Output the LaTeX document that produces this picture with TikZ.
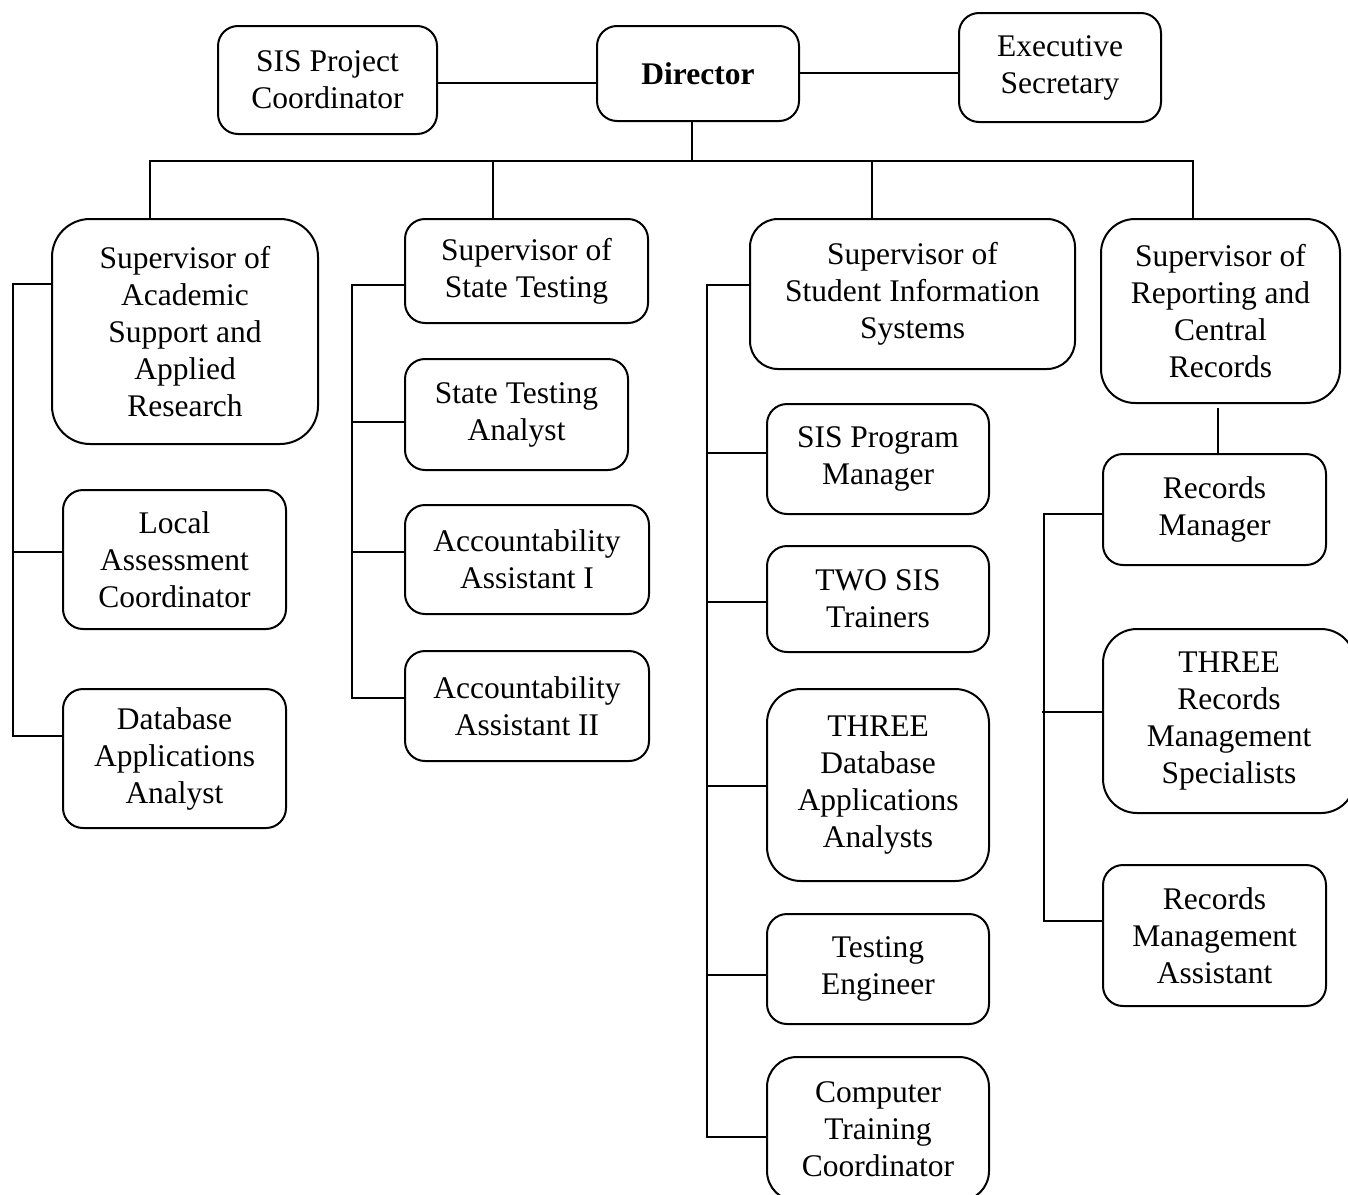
\documentclass[tikz,border=0pt]{standalone}
\usepackage{fontspec}
\setmainfont{Liberation Serif}
\begin{document}
\begin{tikzpicture}[x=1pt,y=-1pt,
  box/.style={draw, line width=2pt, rounded corners=20pt, align=center, inner sep=0pt,
    font=\fontsize{31.5}{37}\selectfont},
  bigbox/.style={box, rounded corners=38pt},
  conn/.style={line width=2pt}]
\useasboundingbox (0,0) rectangle (1348,1194);
\begin{scope}
\clip (0,0) rectangle (1348,1194);
% top row
\node[box, minimum width=219pt, minimum height=108pt] (spc) at (327.5,80) {SIS Project\\Coordinator};
\node[box, minimum width=202pt, minimum height=95pt] (dir) at (698,73.5) {\textbf{Director}};
\node[box, minimum width=202pt, minimum height=109pt] (exe) at (1060,67.5) {Executive\\Secretary};
% supervisors
\node[bigbox, minimum width=266pt, minimum height=225pt] (acad) at (185,331.5) {Supervisor of\\Academic\\Support and\\Applied\\Research};
\node[box, minimum width=243pt, minimum height=104pt] (sst) at (526.5,271) {Supervisor of\\State Testing};
\node[box, rounded corners=28pt, minimum width=325pt, minimum height=150pt] (ssis) at (912.5,294) {Supervisor of\\Student Information\\Systems};
\node[box, rounded corners=34pt, minimum width=239pt, minimum height=184pt] (srep) at (1220.5,311) {Supervisor of\\Reporting and\\Central\\Records};
% column 1
\node[box, minimum width=223pt, minimum height=139pt] (las) at (174.5,559.5) {Local\\Assessment\\Coordinator};
\node[box, minimum width=223pt, minimum height=139pt] (daa) at (174.5,758.5) {Database\\Applications\\Analyst};
% column 2
\node[box, minimum width=223pt, minimum height=111pt] (sta) at (516.5,414.5) {State Testing\\Analyst};
\node[box, minimum width=244pt, minimum height=109pt] (aa1) at (527,559.5) {Accountability\\Assistant I};
\node[box, minimum width=244pt, minimum height=110pt] (aa2) at (527,706) {Accountability\\Assistant II};
% column 3
\node[box, minimum width=222pt, minimum height=110pt] (spm) at (878,459) {SIS Program\\Manager};
\node[box, minimum width=222pt, minimum height=106pt] (tst) at (878,599) {TWO SIS\\Trainers};
\node[box, rounded corners=34pt, minimum width=222pt, minimum height=192pt] (tdaa) at (878,785) {THREE\\Database\\Applications\\Analysts};
\node[box, minimum width=222pt, minimum height=110pt] (te) at (878,969) {Testing\\Engineer};
\node[box, rounded corners=30pt, minimum width=222pt, minimum height=144pt] (ctc) at (878,1129) {Computer\\Training\\Coordinator};
% column 4
\node[box, minimum width=223pt, minimum height=111pt] (rm) at (1214.5,509.5) {Records\\Manager};
\node[box, rounded corners=34pt, minimum width=252pt, minimum height=184pt] (rms) at (1229,721) {THREE\\Records\\Management\\Specialists};
\node[box, minimum width=223pt, minimum height=141pt] (rma) at (1214.5,935.5) {Records\\Management\\Assistant};
\end{scope}
% top connectors
\draw[conn] (spc.east |- 0,83) -- (dir.west |- 0,83);
\draw[conn] (dir.east |- 0,73) -- (exe.west |- 0,73);
\coordinate (bar) at (692,161);
\coordinate (b1) at (150,161);
\coordinate (b2) at (493,161);
\coordinate (b3) at (872,161);
\coordinate (b4) at (1193,161);
\draw[conn] (bar |- dir.south) -- (bar);
\draw[conn] (b1 |- acad.north) -- (b1) -- (b4) -- (b4 |- srep.north);
\draw[conn] (b2) -- (b2 |- sst.north);
\draw[conn] (b3) -- (b3 |- ssis.north);
% column 1
\coordinate (c1a) at (13,284);
\coordinate (c1b) at (13,552);
\coordinate (c1c) at (13,736);
\draw[conn] (c1a -| acad.west) -- (c1a) -- (c1c) -- (c1c -| daa.west);
\draw[conn] (c1b) -- (c1b -| las.west);
% column 2
\coordinate (c2a) at (352,285);
\coordinate (c2b) at (352,422);
\coordinate (c2c) at (352,552);
\coordinate (c2d) at (352,698);
\draw[conn] (c2a -| sst.west) -- (c2a) -- (c2d) -- (c2d -| aa2.west);
\draw[conn] (c2b) -- (c2b -| sta.west);
\draw[conn] (c2c) -- (c2c -| aa1.west);
% column 3
\coordinate (c3a) at (707,285);
\coordinate (c3b) at (707,453);
\coordinate (c3c) at (707,602);
\coordinate (c3d) at (707,786);
\coordinate (c3e) at (707,975);
\coordinate (c3f) at (707,1137);
\draw[conn] (c3a -| ssis.west) -- (c3a) -- (c3f) -- (c3f -| ctc.west);
\draw[conn] (c3b) -- (c3b -| spm.west);
\draw[conn] (c3c) -- (c3c -| tst.west);
\draw[conn] (c3d) -- (c3d -| tdaa.west);
\draw[conn] (c3e) -- (c3e -| te.west);
% column 4
\coordinate (r0) at (1218,408);
\draw[conn] (r0) -- (r0 |- rm.north);
\coordinate (c4a) at (1044,514);
\coordinate (c4b) at (1042,712);
\coordinate (c4c) at (1044,921);
\draw[conn] (c4a -| rm.west) -- (c4a) -- (c4c) -- (c4c -| rma.west);
\draw[conn] (c4b) -- (c4b -| rms.west);
\end{tikzpicture}
\end{document}
